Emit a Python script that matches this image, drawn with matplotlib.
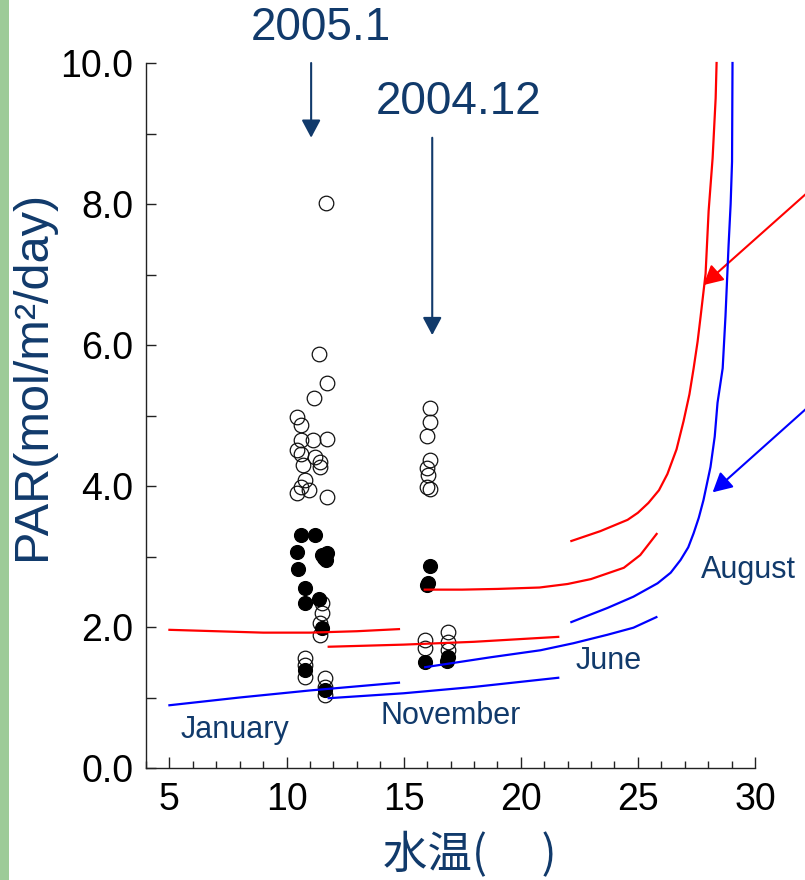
#!/usr/bin/env python3
# -*- coding: utf-8 -*-
"""PAR vs water temperature: field points (2005.1, 2004.12) and monthly limit curves."""

import matplotlib
matplotlib.use("Agg")
import matplotlib.pyplot as plt
from matplotlib.patches import Rectangle
from matplotlib.ticker import MultipleLocator, FormatStrFormatter

plt.rcParams["font.family"] = ["Liberation Sans", "Noto Sans CJK JP", "DejaVu Sans"]

NAVY = "#113a6b"

# -----------------------------
# Observations (read off the figure)
# -----------------------------
# 2005.1 cluster
jan_open_x = [11.69, 11.39, 11.74, 11.18, 10.45, 10.62, 10.62, 11.14, 11.74, 10.45,
              10.62, 11.22, 11.44, 10.71, 11.44, 10.79, 10.62, 10.45, 10.97, 11.74,
              11.52, 11.52, 11.44, 11.44, 10.79, 10.79, 10.79, 11.65, 11.65, 11.65]
jan_open_y = [8.01, 5.87, 5.46, 5.25, 4.98, 4.87, 4.65, 4.65, 4.67, 4.51,
              4.45, 4.41, 4.34, 4.30, 4.27, 4.09, 3.99, 3.90, 3.94, 3.84,
              2.34, 2.20, 2.06, 1.89, 1.56, 1.46, 1.29, 1.28, 1.15, 1.04]
jan_fill_x = [10.62, 11.22, 10.45, 11.52, 11.74, 11.69, 11.60, 10.49,
              10.79, 10.79, 11.39, 11.52, 10.79, 11.65]
jan_fill_y = [3.30, 3.30, 3.06, 3.02, 3.05, 2.95, 2.98, 2.82,
              2.55, 2.34, 2.40, 1.99, 1.39, 1.11]

# 2004.12 cluster
dec_open_x = [16.14, 16.14, 16.01, 16.14, 16.01, 16.05, 16.01, 16.14,
              15.92, 15.92, 16.91, 16.91, 16.91]
dec_open_y = [5.11, 4.91, 4.71, 4.37, 4.26, 4.16, 3.99, 3.96,
              1.82, 1.70, 1.93, 1.79, 1.67]
dec_fill_x = [16.14, 16.01, 16.05, 15.92, 16.91, 16.86]
dec_fill_y = [2.87, 2.60, 2.62, 1.50, 1.57, 1.52]

# -----------------------------
# Monthly curves (red = upper, blue = lower)
# -----------------------------
jan_red_x = [5.0, 7.0, 9.0, 11.0, 13.0, 14.8]
jan_red_y = [1.96, 1.94, 1.92, 1.92, 1.94, 1.97]
jan_blue_x = [5.0, 8.0, 11.0, 14.8]
jan_blue_y = [0.89, 1.00, 1.10, 1.21]

nov_red_x = [11.8, 15.0, 18.0, 21.6]
nov_red_y = [1.72, 1.75, 1.79, 1.86]
nov_blue_x = [11.8, 15.0, 18.0, 21.6]
nov_blue_y = [0.99, 1.06, 1.15, 1.28]

jun_red_x = [15.9, 17.5, 19.0, 20.8, 22.0, 23.0, 24.4, 25.1, 25.8]
jun_red_y = [2.53, 2.53, 2.54, 2.56, 2.61, 2.68, 2.84, 3.02, 3.32]
jun_blue_x = [15.92, 18.7, 20.84, 22.25, 23.70, 24.81, 25.79]
jun_blue_y = [1.43, 1.57, 1.67, 1.77, 1.89, 1.99, 2.14]

aug_red_x = [22.16, 23.40, 24.56, 25.0, 25.45, 25.9, 26.26, 26.65, 26.95, 27.2,
             27.38, 27.55, 27.68, 27.89, 28.02, 28.19, 28.32, 28.36]
aug_red_y = [3.22, 3.36, 3.52, 3.62, 3.76, 3.94, 4.17, 4.52, 4.92, 5.30,
             5.67, 6.05, 6.41, 7.01, 7.90, 8.65, 9.50, 10.0]
aug_blue_x = [22.16, 23.70, 24.81, 25.84, 26.40, 26.82, 27.15, 27.38, 27.60, 27.80,
              28.10, 28.28, 28.40, 28.62, 28.74, 28.87, 28.96, 29.02, 29.04]
aug_blue_y = [2.07, 2.27, 2.43, 2.62, 2.77, 2.95, 3.13, 3.33, 3.55, 3.80,
              4.27, 4.70, 5.18, 5.67, 6.41, 7.40, 8.0, 8.6, 10.0]

red_curves = [(jan_red_x, jan_red_y), (nov_red_x, nov_red_y),
              (jun_red_x, jun_red_y), (aug_red_x, aug_red_y)]
blue_curves = [(jan_blue_x, jan_blue_y), (nov_blue_x, nov_blue_y),
               (jun_blue_x, jun_blue_y), (aug_blue_x, aug_blue_y)]

month_labels = ["January", "November", "June", "August"]
month_pos = [(7.8, 0.54), (16.99, 0.74), (23.74, 1.52), (29.73, 2.81)]


def main() -> None:
    fig = plt.figure(figsize=(8.05, 8.8), dpi=100)
    fig.patches.append(Rectangle((0, 0), 9 / 805, 1, transform=fig.transFigure,
                                 facecolor="#9dcb98", edgecolor="none"))
    ax = fig.add_axes([146 / 805, 1 - 768 / 880, 609 / 805, 705 / 880])

    # points
    ax.plot(jan_open_x, jan_open_y, "o", ms=10.5, mfc="none", mec="#111", mew=0.9, zorder=2)
    ax.plot(dec_open_x, dec_open_y, "o", ms=10.5, mfc="none", mec="#111", mew=0.9, zorder=2)
    ax.plot(jan_fill_x, jan_fill_y, "o", ms=10, mfc="black", mec="black", mew=0.9, zorder=3)
    ax.plot(dec_fill_x, dec_fill_y, "o", ms=10, mfc="black", mec="black", mew=0.9, zorder=3)

    # curves
    for x, y in red_curves:
        ax.plot(x, y, color="#ff0000", lw=1.6, zorder=4, clip_on=False)
    for x, y in blue_curves:
        ax.plot(x, y, color="#0000ff", lw=1.6, zorder=4, clip_on=False)

    for lab, (tx, ty) in zip(month_labels, month_pos):
        ax.text(tx, ty, lab, color=NAVY, fontsize=22, ha="center", va="center",
                clip_on=False)

    # date annotations
    ax.text(11.48, 10.50, "2005.1", color=NAVY, fontsize=33, ha="center", va="center",
            clip_on=False)
    ax.text(17.33, 9.45, "2004.12", color=NAVY, fontsize=33, ha="center", va="center",
            clip_on=False)
    head = "-|>,head_length=0.45,head_width=0.24"
    ax.annotate("", xy=(11.05, 8.94), xytext=(11.05, 10.0), annotation_clip=False,
                arrowprops=dict(arrowstyle=head, color=NAVY, lw=1.5,
                                mutation_scale=24, shrinkA=0, shrinkB=0))
    ax.annotate("", xy=(16.22, 6.14), xytext=(16.22, 8.94), annotation_clip=False,
                arrowprops=dict(arrowstyle=head, color=NAVY, lw=1.5,
                                mutation_scale=24, shrinkA=0, shrinkB=0))
    ax.annotate("", xy=(27.8, 6.85), xytext=(32.3, 8.18), annotation_clip=False,
                arrowprops=dict(arrowstyle=head, color="#ff0000", lw=1.5,
                                mutation_scale=26, shrinkA=0, shrinkB=0))
    ax.annotate("", xy=(28.19, 3.91), xytext=(32.3, 5.13), annotation_clip=False,
                arrowprops=dict(arrowstyle=head, color="#0000ff", lw=1.5,
                                mutation_scale=26, shrinkA=0, shrinkB=0))

    # axes
    ax.set_xlim(4, 30)
    ax.set_ylim(0, 10)
    ax.spines["top"].set_visible(False)
    ax.spines["right"].set_visible(False)
    for s in ("left", "bottom"):
        ax.spines[s].set_color("#222")
        ax.spines[s].set_linewidth(1.0)
    ax.xaxis.set_major_locator(MultipleLocator(5))
    ax.xaxis.set_minor_locator(MultipleLocator(1))
    ax.yaxis.set_major_locator(MultipleLocator(2))
    ax.yaxis.set_minor_locator(MultipleLocator(1))
    ax.yaxis.set_major_formatter(FormatStrFormatter("%.1f"))
    ax.set_xticks([5, 10, 15, 20, 25, 30])
    ax.tick_params(axis="both", which="both", direction="in", color="#222", width=1.0)
    ax.tick_params(axis="x", which="major", length=8, labelsize=27, pad=10)
    ax.tick_params(axis="x", which="minor", length=5)
    ax.tick_params(axis="y", which="both", length=7, labelsize=27, pad=9)

    fig.text(33 / 805, 1 - 375 / 880, "PAR(mol/m²/day)", fontsize=35, color=NAVY,
             rotation=90, ha="center", va="center")
    fig.text(470 / 805, 1 - 855 / 880, "水温(\u3000 )", fontsize=32, color=NAVY,
             ha="center", va="center", family=["Noto Sans CJK JP", "DejaVu Sans"])

    fig.savefig("out.png", dpi=100)
    plt.close(fig)


if __name__ == "__main__":
    main()
